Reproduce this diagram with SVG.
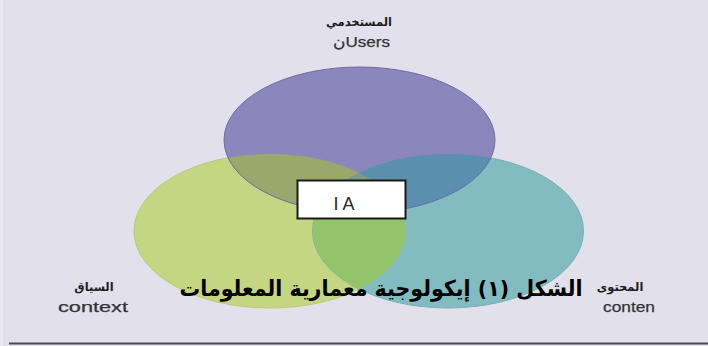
<svg xmlns="http://www.w3.org/2000/svg" width="708" height="346" viewBox="0 0 708 346">
<defs>
<style>
.lbl{font-family:"Liberation Sans",Arial,sans-serif;fill:#333333;stroke:#333333;stroke-width:0.25px;font-size:15px}
.ar{font-family:"DejaVu Sans","Noto Sans",sans-serif;font-weight:bold;fill:#1e1e1e;font-size:11.5px}
.cap{font-family:"DejaVu Sans","Noto Sans",sans-serif;font-weight:bold;fill:#000;font-size:22px}
</style>
<clipPath id="cG"><ellipse cx="270" cy="231" rx="136" ry="77"/></clipPath>
<clipPath id="cT"><ellipse cx="448" cy="231" rx="135.5" ry="77"/></clipPath>
<clipPath id="cP"><ellipse cx="359.5" cy="140" rx="135.5" ry="73"/></clipPath>
</defs>
<rect width="708" height="346" fill="#e2e0eb"/>
<rect x="0" y="0" width="3" height="346" fill="#eae8f0"/>
<line x1="9" y1="343.5" x2="708" y2="343.5" stroke="#4a4a4a" stroke-width="2"/>

<g id="context">
<ellipse cx="270" cy="231" rx="136" ry="77" fill="#c5d682" stroke="#b9cb74" stroke-width="1"/>
<text class="ar" x="94" y="291" text-anchor="middle">السياق</text>
<text class="lbl" x="58" y="312" textLength="70" lengthAdjust="spacingAndGlyphs">context</text>
</g>
<g id="content">
<ellipse cx="448" cy="231" rx="135.5" ry="77" fill="#83bcc0" stroke="#74b0b4" stroke-width="1"/>
<text class="ar" x="620" y="291" text-anchor="middle">المحتوى</text>
<text class="lbl" x="603" y="312" textLength="52" lengthAdjust="spacingAndGlyphs">conten</text>
</g>
<g id="overlap-gt">
<ellipse cx="448" cy="231" rx="135.5" ry="77" fill="#93c46c" clip-path="url(#cG)"/>
</g>
<g id="users">
<ellipse cx="359.5" cy="140" rx="135.5" ry="73" fill="#8b87bd"/>
<ellipse cx="270" cy="231" rx="136" ry="77" fill="#9aa86c" clip-path="url(#cP)"/>
<ellipse cx="448" cy="231" rx="135.5" ry="77" fill="#5b8fae" clip-path="url(#cP)"/>
<g clip-path="url(#cP)"><ellipse cx="448" cy="231" rx="135.5" ry="77" fill="#7a9c80" clip-path="url(#cG)"/></g>
<ellipse cx="359.5" cy="140" rx="135.5" ry="73" fill="none" stroke="#6e6aaa" stroke-width="1"/>
<text class="ar" x="359" y="26" text-anchor="middle">المستخدمي</text>
<text class="lbl" x="333" y="47" textLength="57" lengthAdjust="spacingAndGlyphs">نUsers</text>
</g>
<g id="ia">
<rect x="297.5" y="180.5" width="108" height="38" fill="#ffffff" stroke="#1a1a1a" stroke-width="2"/>
<text x="346" y="210" text-anchor="middle" font-family="Liberation Sans, Arial, sans-serif" font-size="18" letter-spacing="4" fill="#2a2a2a">IA</text>
</g>
<g id="caption">
<text class="cap" x="381" y="296" text-anchor="middle" textLength="403" lengthAdjust="spacingAndGlyphs">الشكل (١) إيكولوجية معمارية المعلومات</text>
</g>
<g id="connectors"/>
</svg>
